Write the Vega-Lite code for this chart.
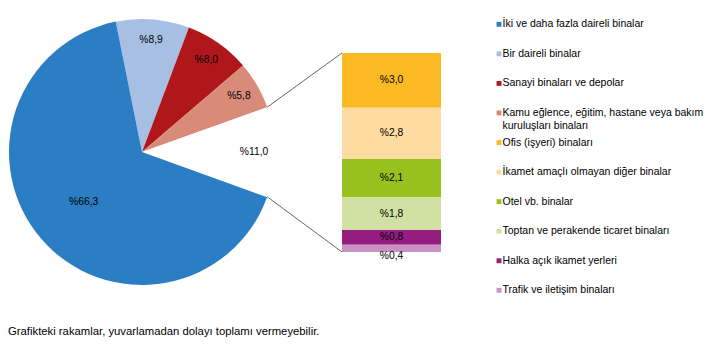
{
  "$schema": "https://vega.github.io/schema/vega-lite/v6.json",
  "width": 707,
  "height": 357,
  "padding": 0,
  "autosize": {"type": "fit", "contains": "padding"},
  "background": "white",
  "config": {
    "view": {"stroke": null},
    "font": "Liberation Sans",
    "locale": {"number": {"decimal": ",", "thousands": ".", "grouping": [3], "currency": ["%", ""]}}
  },
  "datasets": {
    "pasta": [
      {"kategori": "Bir daireli binalar", "deger": 8.9, "sira": 1},
      {"kategori": "Sanayi binaları ve depolar", "deger": 8.0, "sira": 2},
      {"kategori": "Kamu eğlence, eğitim, hastane veya bakım\nkuruluşları binaları", "deger": 5.8, "sira": 3},
      {"kategori": "Diğer binalar", "deger": 11.0, "sira": 4},
      {"kategori": "İki ve daha fazla daireli binalar", "deger": 66.3, "sira": 5}
    ],
    "cubuk": [
      {"kategori": "Ofis (işyeri) binaları", "deger": 3.0, "sira": 1},
      {"kategori": "İkamet amaçlı olmayan diğer binalar", "deger": 2.8, "sira": 2},
      {"kategori": "Otel vb. binalar", "deger": 2.1, "sira": 3},
      {"kategori": "Toptan ve perakende ticaret binaları", "deger": 1.8, "sira": 4},
      {"kategori": "Halka açık ikamet yerleri", "deger": 0.8, "sira": 5},
      {"kategori": "Trafik ve iletişim binaları", "deger": 0.4, "sira": 6}
    ],
    "lejant": [
      {"kategori": "İki ve daha fazla daireli binalar"},
      {"kategori": "Bir daireli binalar"},
      {"kategori": "Sanayi binaları ve depolar"},
      {"kategori": "Kamu eğlence, eğitim, hastane veya bakım\nkuruluşları binaları"},
      {"kategori": "Ofis (işyeri) binaları"},
      {"kategori": "İkamet amaçlı olmayan diğer binalar"},
      {"kategori": "Otel vb. binalar"},
      {"kategori": "Toptan ve perakende ticaret binaları"},
      {"kategori": "Halka açık ikamet yerleri"},
      {"kategori": "Trafik ve iletişim binaları"}
    ],
    "not": [
      {"metin": "Grafikteki rakamlar, yuvarlamadan dolayı toplamı vermeyebilir."}
    ]
  },
  "layer": [
    {
      "data": {"name": "pasta"},
      "encoding": {
        "x": {"datum": "pasta", "type": "nominal", "scale": {"type": "point", "range": [0, 284], "padding": 0.5}, "axis": null},
        "y": {"datum": "pasta", "type": "nominal", "scale": {"type": "point", "range": [0, 304], "padding": 0.5}, "axis": null},
        "theta": {"field": "deger", "type": "quantitative", "stack": true, "scale": {"range": [-0.199, 6.0842]}},
        "order": {"field": "sira", "type": "quantitative"},
        "color": {
          "field": "kategori", "type": "nominal", "legend": null,
          "scale": {
            "domain": ["İki ve daha fazla daireli binalar", "Bir daireli binalar", "Sanayi binaları ve depolar", "Kamu eğlence, eğitim, hastane veya bakım\nkuruluşları binaları", "Ofis (işyeri) binaları", "İkamet amaçlı olmayan diğer binalar", "Otel vb. binalar", "Toptan ve perakende ticaret binaları", "Halka açık ikamet yerleri", "Trafik ve iletişim binaları", "Diğer binalar"],
            "range": ["#2B7EC3", "#A6BFE2", "#B0171B", "#D98B7A", "#FBBA24", "#FDDBA1", "#97C11F", "#D1E1A3", "#951C80", "#C893C4", "#FFFFFF"]
          }
        }
      },
      "layer": [
        {"mark": {"type": "arc", "outerRadius": 133}},
        {
          "mark": {"type": "text", "radius": 112, "fontSize": 10.3, "font": "Liberation Sans", "fill": "#000000"},
          "encoding": {
            "text": {"condition": {"test": "datum.deger > 50", "value": ""}, "field": "deger", "type": "quantitative", "format": "$.1f"}
          }
        },
        {
          "mark": {"type": "text", "radius": 77, "fontSize": 10.3, "font": "Liberation Sans", "fill": "#000000"},
          "encoding": {
            "text": {"condition": {"test": "datum.deger <= 50", "value": ""}, "field": "deger", "type": "quantitative", "format": "$.1f"}
          }
        }
      ]
    },
    {
      "data": {"name": "cubuk"},
      "encoding": {
        "x": {"datum": "Diğer", "type": "nominal", "scale": {"type": "band", "range": [342, 441], "paddingInner": 0, "paddingOuter": 0}, "axis": null},
        "y": {"field": "deger", "type": "quantitative", "stack": "zero", "scale": {"domain": [0, 10.9], "range": [252, 53], "nice": false, "zero": false}, "axis": null},
        "order": {"field": "sira", "type": "quantitative", "sort": "descending"},
        "color": {
          "field": "kategori", "type": "nominal", "legend": null,
          "scale": {
            "domain": ["İki ve daha fazla daireli binalar", "Bir daireli binalar", "Sanayi binaları ve depolar", "Kamu eğlence, eğitim, hastane veya bakım\nkuruluşları binaları", "Ofis (işyeri) binaları", "İkamet amaçlı olmayan diğer binalar", "Otel vb. binalar", "Toptan ve perakende ticaret binaları", "Halka açık ikamet yerleri", "Trafik ve iletişim binaları", "Diğer binalar"],
            "range": ["#2B7EC3", "#A6BFE2", "#B0171B", "#D98B7A", "#FBBA24", "#FDDBA1", "#97C11F", "#D1E1A3", "#951C80", "#C893C4", "#FFFFFF"]
          }
        }
      },
      "layer": [
        {"mark": {"type": "bar", "strokeWidth": 0}},
        {
          "mark": {"type": "text", "fontSize": 10.3, "font": "Liberation Sans", "fill": "#000000", "baseline": "middle"},
          "encoding": {
            "y": {"field": "deger", "type": "quantitative", "stack": "zero", "bandPosition": 0.5, "scale": {"domain": [0, 10.9], "range": [252, 53], "nice": false, "zero": false}, "axis": null},
            "text": {"condition": {"test": "datum.deger < 0.5", "value": ""}, "field": "deger", "type": "quantitative", "format": "$.1f"}
          }
        },
        {
          "mark": {"type": "text", "fontSize": 10.3, "font": "Liberation Sans", "fill": "#000000", "baseline": "middle", "dy": 8},
          "encoding": {
            "y": {"field": "deger", "type": "quantitative", "stack": "zero", "bandPosition": 0.5, "scale": {"domain": [0, 10.9], "range": [252, 53], "nice": false, "zero": false}, "axis": null},
            "text": {"condition": {"test": "datum.deger >= 0.5", "value": ""}, "field": "deger", "type": "quantitative", "format": "$.1f"}
          }
        }
      ]
    },
    {
      "data": {"name": "lejant"},
      "encoding": {
        "y": {"field": "kategori", "type": "nominal", "sort": null, "axis": null,
          "scale": {"type": "point", "padding": 0, "range": [24.3, 290.3],
            "domain": ["İki ve daha fazla daireli binalar", "Bir daireli binalar", "Sanayi binaları ve depolar", "Kamu eğlence, eğitim, hastane veya bakım\nkuruluşları binaları", "Ofis (işyeri) binaları", "İkamet amaçlı olmayan diğer binalar", "Otel vb. binalar", "Toptan ve perakende ticaret binaları", "Halka açık ikamet yerleri", "Trafik ve iletişim binaları"]}}
      },
      "layer": [
        {
          "mark": {"type": "point", "shape": "square", "filled": true, "size": 24, "opacity": 1, "strokeWidth": 0},
          "encoding": {
            "x": {"datum": 499, "type": "quantitative", "scale": {"domain": [0, 707], "range": [0, 707], "nice": false, "zero": false}, "axis": null},
            "color": {
              "field": "kategori", "type": "nominal", "legend": null,
              "scale": {
                "domain": ["İki ve daha fazla daireli binalar", "Bir daireli binalar", "Sanayi binaları ve depolar", "Kamu eğlence, eğitim, hastane veya bakım\nkuruluşları binaları", "Ofis (işyeri) binaları", "İkamet amaçlı olmayan diğer binalar", "Otel vb. binalar", "Toptan ve perakende ticaret binaları", "Halka açık ikamet yerleri", "Trafik ve iletişim binaları", "Diğer binalar"],
                "range": ["#2B7EC3", "#A6BFE2", "#B0171B", "#D98B7A", "#FBBA24", "#FDDBA1", "#97C11F", "#D1E1A3", "#951C80", "#C893C4", "#FFFFFF"]
              }
            }
          }
        },
        {
          "mark": {"type": "text", "align": "left", "baseline": "top", "dy": -5, "fontSize": 10.5, "lineHeight": 13.5, "lineBreak": "\n", "font": "Liberation Sans", "fill": "#000000"},
          "encoding": {
            "x": {"datum": 502.5, "type": "quantitative", "scale": {"domain": [0, 707], "range": [0, 707], "nice": false, "zero": false}, "axis": null},
            "text": {"field": "kategori", "type": "nominal"}
          }
        }
      ]
    },
    {
      "data": {"name": "not"},
      "layer": [
        {
          "mark": {"type": "rule", "color": "#404040", "strokeWidth": 0.8},
          "encoding": {
            "x": {"datum": 267.2, "type": "quantitative", "scale": {"domain": [0, 707], "range": [0, 707], "nice": false, "zero": false}, "axis": null},
            "y": {"datum": 107.2, "type": "quantitative", "scale": {"domain": [0, 357], "reverse": true, "nice": false, "zero": false}, "axis": null},
            "x2": {"datum": 342},
            "y2": {"datum": 53}
          }
        },
        {
          "mark": {"type": "rule", "color": "#404040", "strokeWidth": 0.8},
          "encoding": {
            "x": {"datum": 267.2, "type": "quantitative", "scale": {"domain": [0, 707], "range": [0, 707], "nice": false, "zero": false}, "axis": null},
            "y": {"datum": 196.8, "type": "quantitative", "scale": {"domain": [0, 357], "reverse": true, "nice": false, "zero": false}, "axis": null},
            "x2": {"datum": 342},
            "y2": {"datum": 252}
          }
        },
        {
          "mark": {"type": "text", "align": "left", "baseline": "alphabetic", "fontSize": 11.3, "font": "Liberation Sans", "fill": "#000000"},
          "encoding": {
            "x": {"datum": 8, "type": "quantitative", "scale": {"domain": [0, 707], "range": [0, 707], "nice": false, "zero": false}, "axis": null},
            "y": {"datum": 334.5, "type": "quantitative", "scale": {"domain": [0, 357], "reverse": true, "nice": false, "zero": false}, "axis": null},
            "text": {"field": "metin", "type": "nominal"}
          }
        }
      ]
    }
  ],
  "resolve": {"scale": {"x": "independent", "y": "independent"}}
}
